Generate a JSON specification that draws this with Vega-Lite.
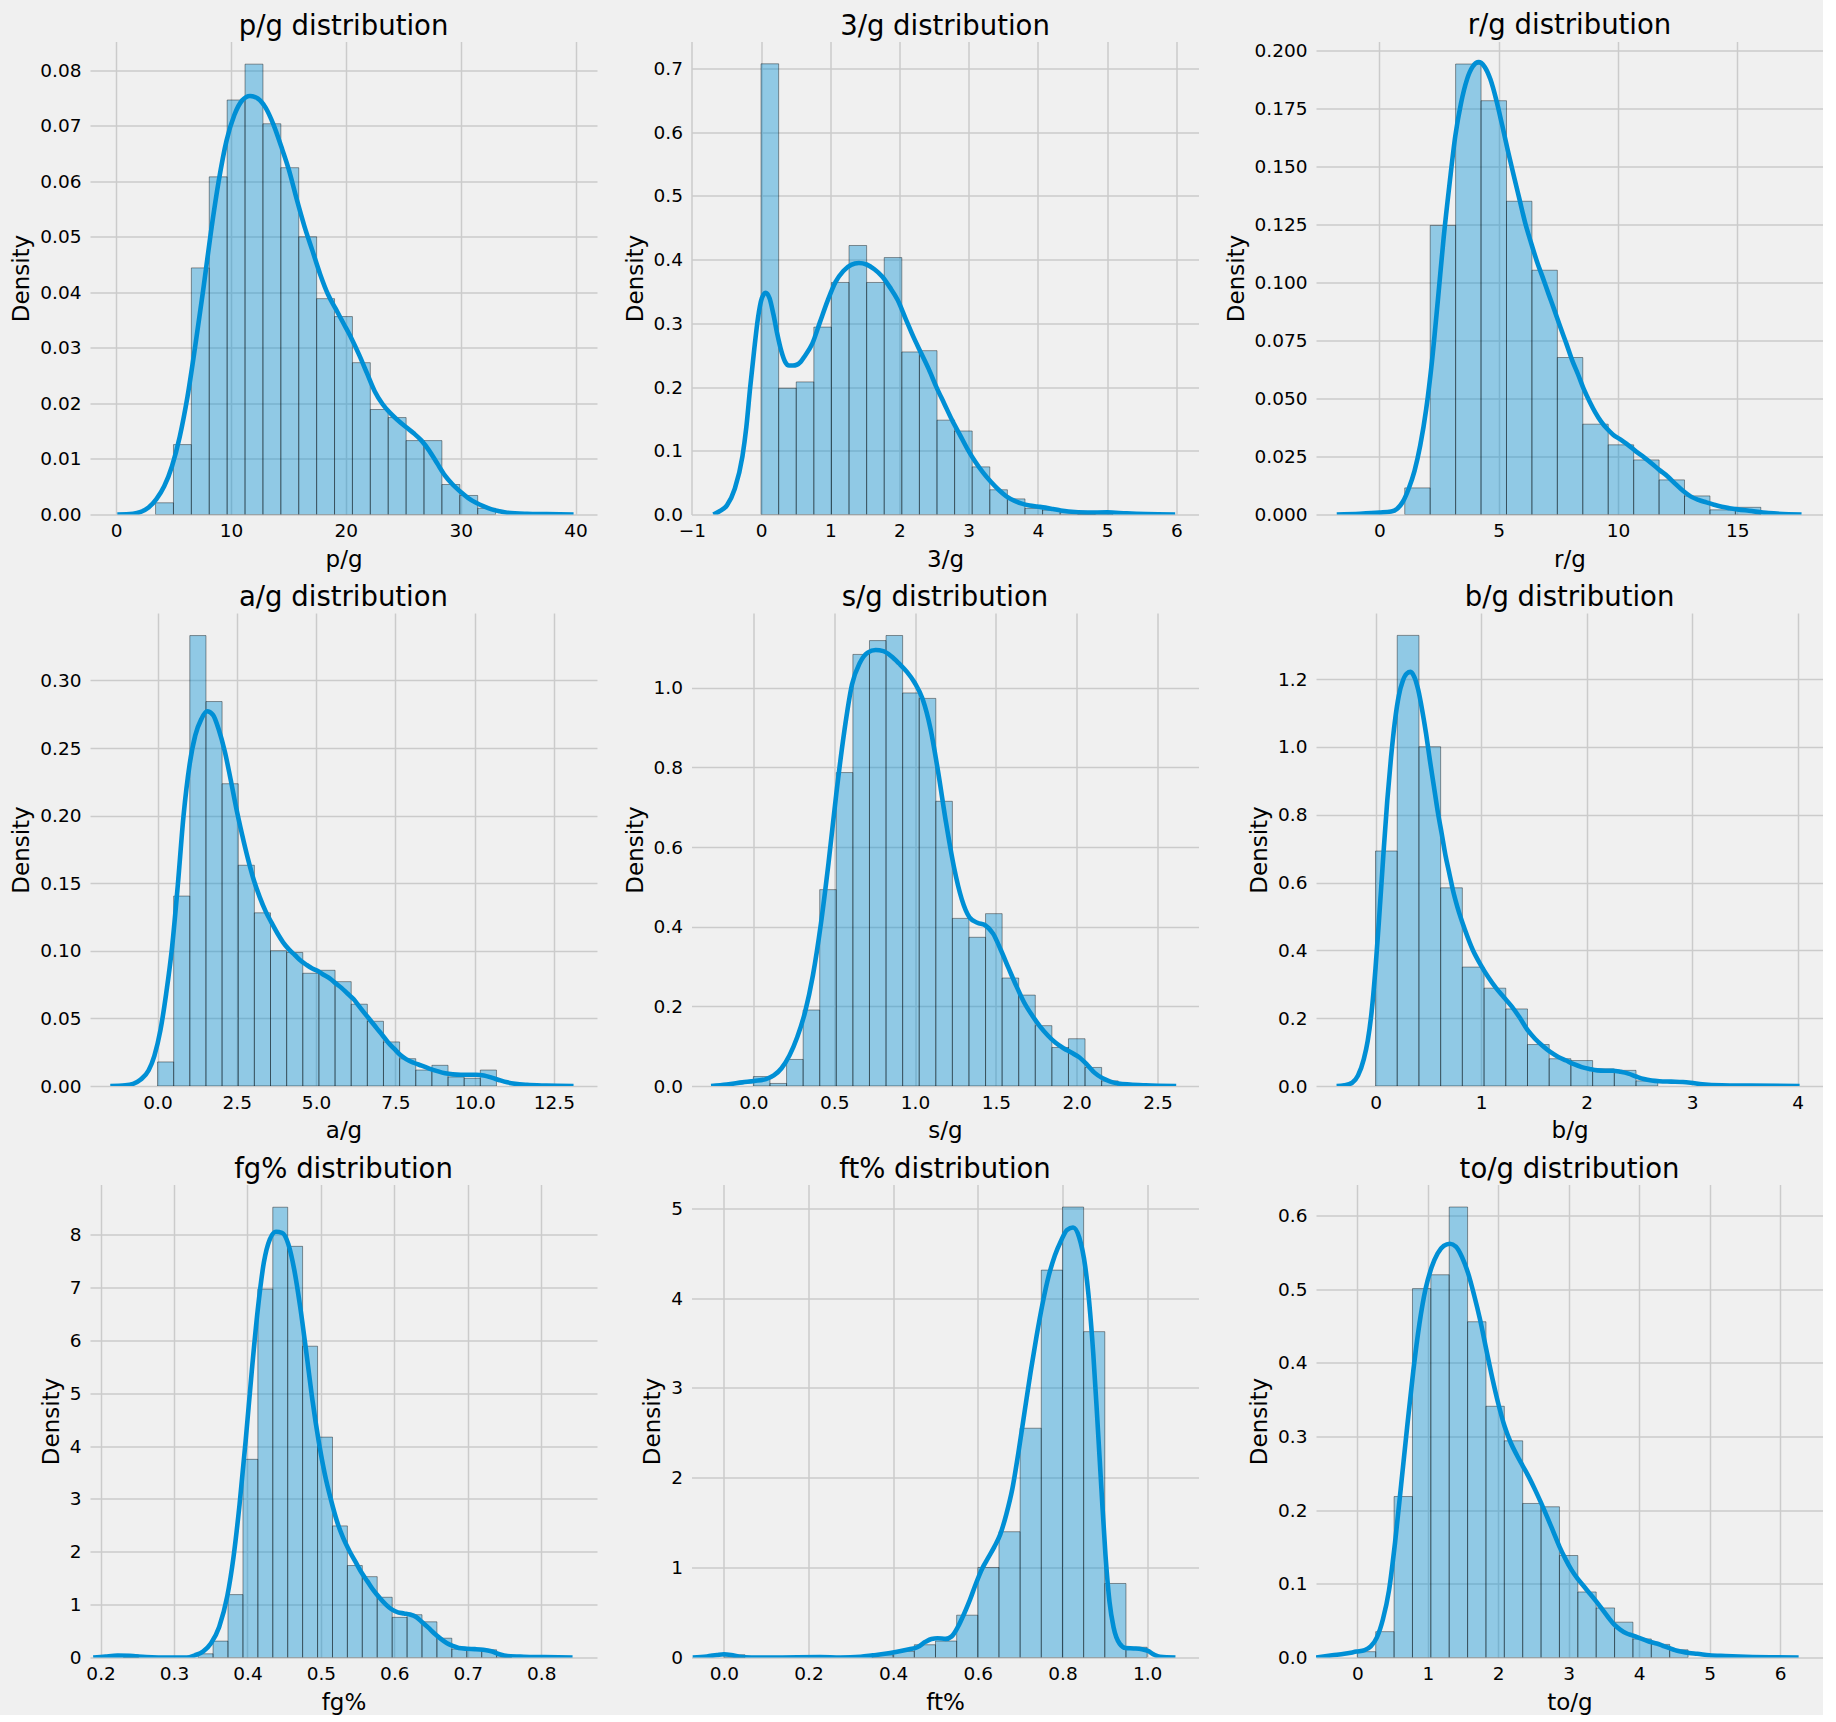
{
"$schema": "https://vega.github.io/schema/vega-lite/v6.json",
"background": "#f0f0f0",
"padding": {"left": 10, "top": 11.5, "right": 0, "bottom": 0},
"columns": 3,
"spacing": {"row": 12.5, "column": 26.5},
"datasets": {
"bars": [
{"v":"p/g","x0":3.43,"x1":4.988,"d":0.00211},{"v":"p/g","x0":4.988,"x1":6.547,"d":0.01259},{"v":"p/g","x0":6.547,"x1":8.105,"d":0.04442},{"v":"p/g","x0":8.105,"x1":9.664,"d":0.06082},{"v":"p/g","x0":9.664,"x1":11.222,"d":0.07466},{"v":"p/g","x0":11.222,"x1":12.78,"d":0.08112},{"v":"p/g","x0":12.78,"x1":14.339,"d":0.07038},{"v":"p/g","x0":14.339,"x1":15.897,"d":0.06247},{"v":"p/g","x0":15.897,"x1":17.456,"d":0.05002},{"v":"p/g","x0":17.456,"x1":19.014,"d":0.03888},{"v":"p/g","x0":19.014,"x1":20.572,"d":0.03565},{"v":"p/g","x0":20.572,"x1":22.131,"d":0.02735},{"v":"p/g","x0":22.131,"x1":23.689,"d":0.01891},{"v":"p/g","x0":23.689,"x1":25.248,"d":0.01746},{"v":"p/g","x0":25.248,"x1":26.806,"d":0.01331},{"v":"p/g","x0":26.806,"x1":28.364,"d":0.01331},{"v":"p/g","x0":28.364,"x1":29.923,"d":0.0054},{"v":"p/g","x0":29.923,"x1":31.481,"d":0.00343},{"v":"p/g","x0":31.481,"x1":33.04,"d":0.00112},
{"v":"3/g","x0":0,"x1":0.2542,"d":0.707},{"v":"3/g","x0":0.2542,"x1":0.5084,"d":0.198},{"v":"3/g","x0":0.5084,"x1":0.7626,"d":0.208},{"v":"3/g","x0":0.7626,"x1":1.0168,"d":0.294},{"v":"3/g","x0":1.0168,"x1":1.271,"d":0.364},{"v":"3/g","x0":1.271,"x1":1.5252,"d":0.422},{"v":"3/g","x0":1.5252,"x1":1.7794,"d":0.364},{"v":"3/g","x0":1.7794,"x1":2.0336,"d":0.403},{"v":"3/g","x0":2.0336,"x1":2.2878,"d":0.255},{"v":"3/g","x0":2.2878,"x1":2.542,"d":0.257},{"v":"3/g","x0":2.542,"x1":2.7962,"d":0.148},{"v":"3/g","x0":2.7962,"x1":3.0504,"d":0.131},{"v":"3/g","x0":3.0504,"x1":3.3046,"d":0.0747},{"v":"3/g","x0":3.3046,"x1":3.5588,"d":0.0388},{"v":"3/g","x0":3.5588,"x1":3.813,"d":0.0245},{"v":"3/g","x0":3.813,"x1":4.0672,"d":0.0097},{"v":"3/g","x0":4.0672,"x1":4.3214,"d":0.007},{"v":"3/g","x0":4.3214,"x1":4.5756,"d":0.003},{"v":"3/g","x0":4.5756,"x1":4.8298,"d":0},{"v":"3/g","x0":4.8298,"x1":5.084,"d":0.003},
{"v":"r/g","x0":1.06,"x1":2.126,"d":0.01145},{"v":"r/g","x0":2.126,"x1":3.192,"d":0.1245},{"v":"r/g","x0":3.192,"x1":4.258,"d":0.194},{"v":"r/g","x0":4.258,"x1":5.324,"d":0.1782},{"v":"r/g","x0":5.324,"x1":6.39,"d":0.1349},{"v":"r/g","x0":6.39,"x1":7.456,"d":0.1052},{"v":"r/g","x0":7.456,"x1":8.522,"d":0.0676},{"v":"r/g","x0":8.522,"x1":9.588,"d":0.0389},{"v":"r/g","x0":9.588,"x1":10.654,"d":0.03},{"v":"r/g","x0":10.654,"x1":11.72,"d":0.0235},{"v":"r/g","x0":11.72,"x1":12.786,"d":0.0149},{"v":"r/g","x0":12.786,"x1":13.852,"d":0.008},{"v":"r/g","x0":13.852,"x1":14.918,"d":0.002},{"v":"r/g","x0":14.918,"x1":15.984,"d":0.0031},
{"v":"a/g","x0":0,"x1":0.509,"d":0.0178},{"v":"a/g","x0":0.509,"x1":1.018,"d":0.1405},{"v":"a/g","x0":1.018,"x1":1.527,"d":0.3332},{"v":"a/g","x0":1.527,"x1":2.036,"d":0.2844},{"v":"a/g","x0":2.036,"x1":2.545,"d":0.2236},{"v":"a/g","x0":2.545,"x1":3.054,"d":0.1633},{"v":"a/g","x0":3.054,"x1":3.563,"d":0.1281},{"v":"a/g","x0":3.563,"x1":4.072,"d":0.1001},{"v":"a/g","x0":4.072,"x1":4.581,"d":0.0988},{"v":"a/g","x0":4.581,"x1":5.09,"d":0.0834},{"v":"a/g","x0":5.09,"x1":5.599,"d":0.0856},{"v":"a/g","x0":5.599,"x1":6.108,"d":0.0772},{"v":"a/g","x0":6.108,"x1":6.617,"d":0.0605},{"v":"a/g","x0":6.617,"x1":7.126,"d":0.0479},{"v":"a/g","x0":7.126,"x1":7.635,"d":0.0326},{"v":"a/g","x0":7.635,"x1":8.144,"d":0.0202},{"v":"a/g","x0":8.144,"x1":8.653,"d":0.0118},{"v":"a/g","x0":8.653,"x1":9.162,"d":0.0153},{"v":"a/g","x0":9.162,"x1":9.671,"d":0.0067},{"v":"a/g","x0":9.671,"x1":10.18,"d":0.0057},{"v":"a/g","x0":10.18,"x1":10.689,"d":0.0118},
{"v":"s/g","x0":0,"x1":0.1026,"d":0.0237},{"v":"s/g","x0":0.1026,"x1":0.2052,"d":0.0064},{"v":"s/g","x0":0.2052,"x1":0.3078,"d":0.0667},{"v":"s/g","x0":0.3078,"x1":0.4104,"d":0.1909},{"v":"s/g","x0":0.4104,"x1":0.513,"d":0.4932},{"v":"s/g","x0":0.513,"x1":0.6156,"d":0.7872},{"v":"s/g","x0":0.6156,"x1":0.7182,"d":1.084},{"v":"s/g","x0":0.7182,"x1":0.8208,"d":1.1187},{"v":"s/g","x0":0.8208,"x1":0.9234,"d":1.1315},{"v":"s/g","x0":0.9234,"x1":1.026,"d":0.9872},{"v":"s/g","x0":1.026,"x1":1.1286,"d":0.9735},{"v":"s/g","x0":1.1286,"x1":1.2312,"d":0.7151},{"v":"s/g","x0":1.2312,"x1":1.3338,"d":0.421},{"v":"s/g","x0":1.3338,"x1":1.4364,"d":0.3735},{"v":"s/g","x0":1.4364,"x1":1.539,"d":0.4329},{"v":"s/g","x0":1.539,"x1":1.6416,"d":0.2712},{"v":"s/g","x0":1.6416,"x1":1.7442,"d":0.2283},{"v":"s/g","x0":1.7442,"x1":1.8468,"d":0.1516},{"v":"s/g","x0":1.8468,"x1":1.9494,"d":0.0968},{"v":"s/g","x0":1.9494,"x1":2.052,"d":0.1187},{"v":"s/g","x0":2.052,"x1":2.1546,"d":0.0466},{"v":"s/g","x0":2.1546,"x1":2.2572,"d":0.0128},
{"v":"b/g","x0":0,"x1":0.2057,"d":0.693},{"v":"b/g","x0":0.2057,"x1":0.4114,"d":1.329},{"v":"b/g","x0":0.4114,"x1":0.6171,"d":1.0005},{"v":"b/g","x0":0.6171,"x1":0.8228,"d":0.5845},{"v":"b/g","x0":0.8228,"x1":1.0285,"d":0.3507},{"v":"b/g","x0":1.0285,"x1":1.2342,"d":0.2885},{"v":"b/g","x0":1.2342,"x1":1.4399,"d":0.2273},{"v":"b/g","x0":1.4399,"x1":1.6456,"d":0.1223},{"v":"b/g","x0":1.6456,"x1":1.8513,"d":0.0804},{"v":"b/g","x0":1.8513,"x1":2.057,"d":0.0751},{"v":"b/g","x0":2.057,"x1":2.2627,"d":0.0504},{"v":"b/g","x0":2.2627,"x1":2.4684,"d":0.0461},{"v":"b/g","x0":2.4684,"x1":2.6741,"d":0.015},
{"v":"fg%","x0":0.2313,"x1":0.2516,"d":0.05},{"v":"fg%","x0":0.3329,"x1":0.3532,"d":0.07},{"v":"fg%","x0":0.3532,"x1":0.3735,"d":0.31},{"v":"fg%","x0":0.3735,"x1":0.3939,"d":1.19},{"v":"fg%","x0":0.3939,"x1":0.4142,"d":3.75},{"v":"fg%","x0":0.4142,"x1":0.4345,"d":6.97},{"v":"fg%","x0":0.4345,"x1":0.4548,"d":8.52},{"v":"fg%","x0":0.4548,"x1":0.4751,"d":7.78},{"v":"fg%","x0":0.4751,"x1":0.4955,"d":5.89},{"v":"fg%","x0":0.4955,"x1":0.5158,"d":4.17},{"v":"fg%","x0":0.5158,"x1":0.5361,"d":2.49},{"v":"fg%","x0":0.5361,"x1":0.5564,"d":1.74},{"v":"fg%","x0":0.5564,"x1":0.5767,"d":1.53},{"v":"fg%","x0":0.5767,"x1":0.5971,"d":1.14},{"v":"fg%","x0":0.5971,"x1":0.6174,"d":0.76},{"v":"fg%","x0":0.6174,"x1":0.6377,"d":0.81},{"v":"fg%","x0":0.6377,"x1":0.658,"d":0.675},{"v":"fg%","x0":0.658,"x1":0.6783,"d":0.365},{"v":"fg%","x0":0.6783,"x1":0.6987,"d":0.16},{"v":"fg%","x0":0.6987,"x1":0.719,"d":0.15},{"v":"fg%","x0":0.719,"x1":0.7393,"d":0.145},{"v":"fg%","x0":0.7393,"x1":0.7596,"d":0.05},
{"v":"ft%","x0":0,"x1":0.05,"d":0.03},{"v":"ft%","x0":0.35,"x1":0.4,"d":0.03},{"v":"ft%","x0":0.4,"x1":0.45,"d":0.069},{"v":"ft%","x0":0.45,"x1":0.5,"d":0.142},{"v":"ft%","x0":0.5,"x1":0.55,"d":0.183},{"v":"ft%","x0":0.55,"x1":0.6,"d":0.471},{"v":"ft%","x0":0.6,"x1":0.65,"d":1.002},{"v":"ft%","x0":0.65,"x1":0.7,"d":1.4},{"v":"ft%","x0":0.7,"x1":0.75,"d":2.552},{"v":"ft%","x0":0.75,"x1":0.8,"d":4.312},{"v":"ft%","x0":0.8,"x1":0.85,"d":5.014},{"v":"ft%","x0":0.85,"x1":0.9,"d":3.627},{"v":"ft%","x0":0.9,"x1":0.95,"d":0.824},{"v":"ft%","x0":0.95,"x1":1.0,"d":0.114},
{"v":"to/g","x0":0,"x1":0.2608,"d":0.0079},{"v":"to/g","x0":0.2608,"x1":0.5216,"d":0.0351},{"v":"to/g","x0":0.5216,"x1":0.7824,"d":0.2186},{"v":"to/g","x0":0.7824,"x1":1.0432,"d":0.501},{"v":"to/g","x0":1.0432,"x1":1.304,"d":0.5198},{"v":"to/g","x0":1.304,"x1":1.5648,"d":0.6118},{"v":"to/g","x0":1.5648,"x1":1.8256,"d":0.456},{"v":"to/g","x0":1.8256,"x1":2.0864,"d":0.3412},{"v":"to/g","x0":2.0864,"x1":2.3472,"d":0.2943},{"v":"to/g","x0":2.3472,"x1":2.608,"d":0.2092},{"v":"to/g","x0":2.608,"x1":2.8688,"d":0.2047},{"v":"to/g","x0":2.8688,"x1":3.1296,"d":0.1385},{"v":"to/g","x0":3.1296,"x1":3.3904,"d":0.089},{"v":"to/g","x0":3.3904,"x1":3.6512,"d":0.0673},{"v":"to/g","x0":3.6512,"x1":3.912,"d":0.048},{"v":"to/g","x0":3.912,"x1":4.1728,"d":0.0252},{"v":"to/g","x0":4.1728,"x1":4.4336,"d":0.0178},{"v":"to/g","x0":4.4336,"x1":4.6944,"d":0.0104}
],
"kde": [
{"v":"p/g","x":0.1,"d":0},{"v":"p/g","x":1.46,"d":0.00013},{"v":"p/g","x":2.14,"d":0.00046},{"v":"p/g","x":2.82,"d":0.00125},{"v":"p/g","x":3.5,"d":0.00277},{"v":"p/g","x":4.18,"d":0.00507},{"v":"p/g","x":4.86,"d":0.0087},{"v":"p/g","x":5.53,"d":0.01397},{"v":"p/g","x":6.21,"d":0.02122},{"v":"p/g","x":6.89,"d":0.03044},{"v":"p/g","x":7.57,"d":0.04033},{"v":"p/g","x":8.25,"d":0.05087},{"v":"p/g","x":8.93,"d":0.0601},{"v":"p/g","x":9.61,"d":0.06735},{"v":"p/g","x":10.29,"d":0.07196},{"v":"p/g","x":10.97,"d":0.0746},{"v":"p/g","x":11.65,"d":0.07539},{"v":"p/g","x":12.33,"d":0.07493},{"v":"p/g","x":13.01,"d":0.07328},{"v":"p/g","x":13.68,"d":0.07031},{"v":"p/g","x":14.36,"d":0.06636},{"v":"p/g","x":15.04,"d":0.06208},{"v":"p/g","x":15.72,"d":0.0568},{"v":"p/g","x":16.4,"d":0.05186},{"v":"p/g","x":17.08,"d":0.04758},{"v":"p/g","x":17.76,"d":0.04329},{"v":"p/g","x":18.44,"d":0.03967},{"v":"p/g","x":19.12,"d":0.03703},{"v":"p/g","x":19.8,"d":0.0344},{"v":"p/g","x":20.48,"d":0.03176},{"v":"p/g","x":21.15,"d":0.0288},{"v":"p/g","x":21.83,"d":0.0255},{"v":"p/g","x":22.51,"d":0.02221},{"v":"p/g","x":23.19,"d":0.0199},{"v":"p/g","x":23.87,"d":0.01825},{"v":"p/g","x":24.55,"d":0.01694},{"v":"p/g","x":25.23,"d":0.01575},{"v":"p/g","x":25.91,"d":0.01463},{"v":"p/g","x":26.59,"d":0.01331},{"v":"p/g","x":27.27,"d":0.01147},{"v":"p/g","x":27.95,"d":0.00923},{"v":"p/g","x":28.62,"d":0.00705},{"v":"p/g","x":29.3,"d":0.0054},{"v":"p/g","x":29.98,"d":0.00409},{"v":"p/g","x":30.66,"d":0.00297},{"v":"p/g","x":31.34,"d":0.00211},{"v":"p/g","x":32.02,"d":0.00145},{"v":"p/g","x":32.7,"d":0.00092},{"v":"p/g","x":33.38,"d":0.00059},{"v":"p/g","x":34.06,"d":0.00033},{"v":"p/g","x":35.76,"d":0.00013},{"v":"p/g","x":37.45,"d":0.00007},{"v":"p/g","x":39.83,"d":0},
{"v":"3/g","x":-0.69,"d":0},{"v":"3/g","x":-0.606,"d":0.0046},{"v":"3/g","x":-0.493,"d":0.0143},{"v":"3/g","x":-0.381,"d":0.0399},{"v":"3/g","x":-0.269,"d":0.0912},{"v":"3/g","x":-0.213,"d":0.1368},{"v":"3/g","x":-0.157,"d":0.1995},{"v":"3/g","x":-0.101,"d":0.2565},{"v":"3/g","x":-0.045,"d":0.3079},{"v":"3/g","x":0.011,"d":0.3392},{"v":"3/g","x":0.067,"d":0.3478},{"v":"3/g","x":0.123,"d":0.3392},{"v":"3/g","x":0.179,"d":0.3136},{"v":"3/g","x":0.236,"d":0.2822},{"v":"3/g","x":0.292,"d":0.2566},{"v":"3/g","x":0.348,"d":0.2394},{"v":"3/g","x":0.404,"d":0.2337},{"v":"3/g","x":0.46,"d":0.2337},{"v":"3/g","x":0.516,"d":0.2349},{"v":"3/g","x":0.572,"d":0.2394},{"v":"3/g","x":0.628,"d":0.248},{"v":"3/g","x":0.74,"d":0.268},{"v":"3/g","x":0.852,"d":0.3022},{"v":"3/g","x":0.965,"d":0.3364},{"v":"3/g","x":1.077,"d":0.3649},{"v":"3/g","x":1.189,"d":0.382},{"v":"3/g","x":1.301,"d":0.3917},{"v":"3/g","x":1.413,"d":0.3945},{"v":"3/g","x":1.525,"d":0.3922},{"v":"3/g","x":1.637,"d":0.3848},{"v":"3/g","x":1.75,"d":0.3734},{"v":"3/g","x":1.862,"d":0.3563},{"v":"3/g","x":1.974,"d":0.3364},{"v":"3/g","x":2.086,"d":0.3078},{"v":"3/g","x":2.198,"d":0.2794},{"v":"3/g","x":2.31,"d":0.2537},{"v":"3/g","x":2.423,"d":0.228},{"v":"3/g","x":2.535,"d":0.1995},{"v":"3/g","x":2.647,"d":0.1739},{"v":"3/g","x":2.759,"d":0.1482},{"v":"3/g","x":2.871,"d":0.1254},{"v":"3/g","x":2.983,"d":0.1026},{"v":"3/g","x":3.095,"d":0.0826},{"v":"3/g","x":3.208,"d":0.0656},{"v":"3/g","x":3.32,"d":0.0513},{"v":"3/g","x":3.432,"d":0.0388},{"v":"3/g","x":3.544,"d":0.0285},{"v":"3/g","x":3.656,"d":0.0217},{"v":"3/g","x":3.768,"d":0.0171},{"v":"3/g","x":3.88,"d":0.0142},{"v":"3/g","x":3.993,"d":0.0125},{"v":"3/g","x":4.105,"d":0.0108},{"v":"3/g","x":4.217,"d":0.0086},{"v":"3/g","x":4.329,"d":0.0063},{"v":"3/g","x":4.441,"d":0.0046},{"v":"3/g","x":4.722,"d":0.0029},{"v":"3/g","x":5.002,"d":0.0034},{"v":"3/g","x":5.282,"d":0.0017},{"v":"3/g","x":5.563,"d":0.0006},{"v":"3/g","x":5.983,"d":0},
{"v":"r/g","x":-1.79,"d":0},{"v":"r/g","x":-0.82,"d":0.0003},{"v":"r/g","x":0,"d":0.0008},{"v":"r/g","x":0.49,"d":0.0013},{"v":"r/g","x":0.73,"d":0.0024},{"v":"r/g","x":0.98,"d":0.0055},{"v":"r/g","x":1.22,"d":0.011},{"v":"r/g","x":1.47,"d":0.0188},{"v":"r/g","x":1.71,"d":0.0298},{"v":"r/g","x":1.96,"d":0.0455},{"v":"r/g","x":2.2,"d":0.0659},{"v":"r/g","x":2.45,"d":0.0925},{"v":"r/g","x":2.69,"d":0.1192},{"v":"r/g","x":2.94,"d":0.1427},{"v":"r/g","x":3.18,"d":0.1631},{"v":"r/g","x":3.42,"d":0.1772},{"v":"r/g","x":3.67,"d":0.1874},{"v":"r/g","x":3.91,"d":0.1929},{"v":"r/g","x":4.16,"d":0.1948},{"v":"r/g","x":4.4,"d":0.1929},{"v":"r/g","x":4.65,"d":0.1874},{"v":"r/g","x":4.89,"d":0.1788},{"v":"r/g","x":5.14,"d":0.1678},{"v":"r/g","x":5.38,"d":0.1568},{"v":"r/g","x":5.63,"d":0.1459},{"v":"r/g","x":5.87,"d":0.1357},{"v":"r/g","x":6.11,"d":0.1255},{"v":"r/g","x":6.36,"d":0.1168},{"v":"r/g","x":6.6,"d":0.109},{"v":"r/g","x":6.85,"d":0.1019},{"v":"r/g","x":7.09,"d":0.0949},{"v":"r/g","x":7.34,"d":0.0878},{"v":"r/g","x":7.58,"d":0.0807},{"v":"r/g","x":7.83,"d":0.0737},{"v":"r/g","x":8.07,"d":0.0666},{"v":"r/g","x":8.32,"d":0.0604},{"v":"r/g","x":8.56,"d":0.0541},{"v":"r/g","x":8.81,"d":0.0486},{"v":"r/g","x":9.05,"d":0.0439},{"v":"r/g","x":9.29,"d":0.04},{"v":"r/g","x":9.54,"d":0.0369},{"v":"r/g","x":9.78,"d":0.0345},{"v":"r/g","x":10.11,"d":0.0322},{"v":"r/g","x":10.44,"d":0.0298},{"v":"r/g","x":10.76,"d":0.0271},{"v":"r/g","x":11.09,"d":0.0246},{"v":"r/g","x":11.41,"d":0.022},{"v":"r/g","x":11.74,"d":0.0191},{"v":"r/g","x":12.07,"d":0.0165},{"v":"r/g","x":12.39,"d":0.0133},{"v":"r/g","x":12.72,"d":0.0102},{"v":"r/g","x":13.04,"d":0.0078},{"v":"r/g","x":13.37,"d":0.0063},{"v":"r/g","x":13.7,"d":0.0052},{"v":"r/g","x":14.02,"d":0.0042},{"v":"r/g","x":14.35,"d":0.0033},{"v":"r/g","x":14.67,"d":0.0027},{"v":"r/g","x":15.0,"d":0.0022},{"v":"r/g","x":15.49,"d":0.0016},{"v":"r/g","x":16.31,"d":0.0006},{"v":"r/g","x":17.69,"d":0},
{"v":"a/g","x":-1.49,"d":0},{"v":"a/g","x":-1.02,"d":0.0005},{"v":"a/g","x":-0.77,"d":0.0016},{"v":"a/g","x":-0.53,"d":0.0048},{"v":"a/g","x":-0.28,"d":0.0116},{"v":"a/g","x":-0.1,"d":0.0223},{"v":"a/g","x":0.09,"d":0.0411},{"v":"a/g","x":0.27,"d":0.068},{"v":"a/g","x":0.46,"d":0.103},{"v":"a/g","x":0.64,"d":0.1488},{"v":"a/g","x":0.82,"d":0.1999},{"v":"a/g","x":1.01,"d":0.2376},{"v":"a/g","x":1.19,"d":0.2594},{"v":"a/g","x":1.38,"d":0.2714},{"v":"a/g","x":1.56,"d":0.2772},{"v":"a/g","x":1.75,"d":0.2745},{"v":"a/g","x":1.93,"d":0.2637},{"v":"a/g","x":2.12,"d":0.2476},{"v":"a/g","x":2.3,"d":0.2274},{"v":"a/g","x":2.48,"d":0.2059},{"v":"a/g","x":2.67,"d":0.1857},{"v":"a/g","x":2.85,"d":0.1682},{"v":"a/g","x":3.04,"d":0.152},{"v":"a/g","x":3.22,"d":0.1399},{"v":"a/g","x":3.41,"d":0.1292},{"v":"a/g","x":3.59,"d":0.1211},{"v":"a/g","x":3.78,"d":0.113},{"v":"a/g","x":3.96,"d":0.1063},{"v":"a/g","x":4.15,"d":0.1009},{"v":"a/g","x":4.33,"d":0.0969},{"v":"a/g","x":4.51,"d":0.0928},{"v":"a/g","x":4.7,"d":0.0896},{"v":"a/g","x":4.88,"d":0.0869},{"v":"a/g","x":5.07,"d":0.0848},{"v":"a/g","x":5.25,"d":0.0821},{"v":"a/g","x":5.44,"d":0.0794},{"v":"a/g","x":5.62,"d":0.0759},{"v":"a/g","x":5.81,"d":0.0724},{"v":"a/g","x":5.99,"d":0.0684},{"v":"a/g","x":6.18,"d":0.0643},{"v":"a/g","x":6.36,"d":0.0589},{"v":"a/g","x":6.54,"d":0.0535},{"v":"a/g","x":6.73,"d":0.0481},{"v":"a/g","x":6.91,"d":0.0428},{"v":"a/g","x":7.1,"d":0.0374},{"v":"a/g","x":7.28,"d":0.032},{"v":"a/g","x":7.47,"d":0.0274},{"v":"a/g","x":7.65,"d":0.0231},{"v":"a/g","x":7.84,"d":0.0199},{"v":"a/g","x":8.08,"d":0.0172},{"v":"a/g","x":8.33,"d":0.0151},{"v":"a/g","x":8.57,"d":0.0129},{"v":"a/g","x":8.82,"d":0.011},{"v":"a/g","x":9.07,"d":0.0094},{"v":"a/g","x":9.31,"d":0.0086},{"v":"a/g","x":9.56,"d":0.0083},{"v":"a/g","x":9.8,"d":0.0083},{"v":"a/g","x":10.05,"d":0.0083},{"v":"a/g","x":10.29,"d":0.0078},{"v":"a/g","x":10.54,"d":0.0062},{"v":"a/g","x":10.79,"d":0.0043},{"v":"a/g","x":11.03,"d":0.0027},{"v":"a/g","x":11.28,"d":0.0016},{"v":"a/g","x":11.65,"d":0.0008},{"v":"a/g","x":12.26,"d":0.0003},{"v":"a/g","x":13.12,"d":0},
{"v":"s/g","x":-0.262,"d":0},{"v":"s/g","x":-0.165,"d":0.0037},{"v":"s/g","x":-0.068,"d":0.0091},{"v":"s/g","x":0.005,"d":0.0128},{"v":"s/g","x":0.078,"d":0.0174},{"v":"s/g","x":0.126,"d":0.0265},{"v":"s/g","x":0.174,"d":0.0447},{"v":"s/g","x":0.223,"d":0.0767},{"v":"s/g","x":0.271,"d":0.1224},{"v":"s/g","x":0.32,"d":0.1863},{"v":"s/g","x":0.368,"d":0.2776},{"v":"s/g","x":0.417,"d":0.4055},{"v":"s/g","x":0.465,"d":0.5607},{"v":"s/g","x":0.513,"d":0.7342},{"v":"s/g","x":0.562,"d":0.8895},{"v":"s/g","x":0.61,"d":1.0082},{"v":"s/g","x":0.659,"d":1.063},{"v":"s/g","x":0.707,"d":1.0886},{"v":"s/g","x":0.756,"d":1.095},{"v":"s/g","x":0.804,"d":1.0922},{"v":"s/g","x":0.853,"d":1.0795},{"v":"s/g","x":0.901,"d":1.0612},{"v":"s/g","x":0.95,"d":1.0402},{"v":"s/g","x":0.998,"d":1.0128},{"v":"s/g","x":1.047,"d":0.9717},{"v":"s/g","x":1.095,"d":0.8986},{"v":"s/g","x":1.143,"d":0.789},{"v":"s/g","x":1.192,"d":0.6612},{"v":"s/g","x":1.24,"d":0.5516},{"v":"s/g","x":1.289,"d":0.4694},{"v":"s/g","x":1.337,"d":0.4237},{"v":"s/g","x":1.386,"d":0.41},{"v":"s/g","x":1.434,"d":0.4037},{"v":"s/g","x":1.483,"d":0.3827},{"v":"s/g","x":1.531,"d":0.3416},{"v":"s/g","x":1.579,"d":0.2959},{"v":"s/g","x":1.628,"d":0.2502},{"v":"s/g","x":1.676,"d":0.2091},{"v":"s/g","x":1.725,"d":0.1772},{"v":"s/g","x":1.773,"d":0.1498},{"v":"s/g","x":1.822,"d":0.1269},{"v":"s/g","x":1.87,"d":0.1087},{"v":"s/g","x":1.919,"d":0.095},{"v":"s/g","x":1.967,"d":0.084},{"v":"s/g","x":2.016,"d":0.0721},{"v":"s/g","x":2.064,"d":0.0539},{"v":"s/g","x":2.112,"d":0.0329},{"v":"s/g","x":2.161,"d":0.0192},{"v":"s/g","x":2.209,"d":0.011},{"v":"s/g","x":2.258,"d":0.0064},{"v":"s/g","x":2.33,"d":0.0037},{"v":"s/g","x":2.427,"d":0.0018},{"v":"s/g","x":2.616,"d":0},
{"v":"b/g","x":-0.369,"d":0},{"v":"b/g","x":-0.295,"d":0.0021},{"v":"b/g","x":-0.221,"d":0.0097},{"v":"b/g","x":-0.166,"d":0.0311},{"v":"b/g","x":-0.111,"d":0.0794},{"v":"b/g","x":-0.074,"d":0.133},{"v":"b/g","x":-0.037,"d":0.2188},{"v":"b/g","x":0.0,"d":0.3475},{"v":"b/g","x":0.037,"d":0.5084},{"v":"b/g","x":0.074,"d":0.6799},{"v":"b/g","x":0.111,"d":0.8408},{"v":"b/g","x":0.147,"d":0.9694},{"v":"b/g","x":0.184,"d":1.0767},{"v":"b/g","x":0.221,"d":1.1517},{"v":"b/g","x":0.258,"d":1.1946},{"v":"b/g","x":0.295,"d":1.2161},{"v":"b/g","x":0.332,"d":1.2214},{"v":"b/g","x":0.369,"d":1.2054},{"v":"b/g","x":0.405,"d":1.1678},{"v":"b/g","x":0.442,"d":1.1088},{"v":"b/g","x":0.479,"d":1.0391},{"v":"b/g","x":0.516,"d":0.9587},{"v":"b/g","x":0.553,"d":0.8836},{"v":"b/g","x":0.59,"d":0.8086},{"v":"b/g","x":0.627,"d":0.7442},{"v":"b/g","x":0.663,"d":0.6799},{"v":"b/g","x":0.7,"d":0.6263},{"v":"b/g","x":0.737,"d":0.5727},{"v":"b/g","x":0.774,"d":0.5298},{"v":"b/g","x":0.848,"d":0.4601},{"v":"b/g","x":0.922,"d":0.4011},{"v":"b/g","x":0.995,"d":0.3582},{"v":"b/g","x":1.069,"d":0.3206},{"v":"b/g","x":1.143,"d":0.2885},{"v":"b/g","x":1.216,"d":0.2617},{"v":"b/g","x":1.29,"d":0.2349},{"v":"b/g","x":1.364,"d":0.2027},{"v":"b/g","x":1.438,"d":0.1662},{"v":"b/g","x":1.511,"d":0.1394},{"v":"b/g","x":1.585,"d":0.118},{"v":"b/g","x":1.659,"d":0.0997},{"v":"b/g","x":1.732,"d":0.0858},{"v":"b/g","x":1.806,"d":0.0751},{"v":"b/g","x":1.88,"d":0.0643},{"v":"b/g","x":1.954,"d":0.0558},{"v":"b/g","x":2.027,"d":0.0504},{"v":"b/g","x":2.101,"d":0.0461},{"v":"b/g","x":2.175,"d":0.045},{"v":"b/g","x":2.248,"d":0.045},{"v":"b/g","x":2.322,"d":0.0418},{"v":"b/g","x":2.396,"d":0.0365},{"v":"b/g","x":2.47,"d":0.0279},{"v":"b/g","x":2.543,"d":0.0204},{"v":"b/g","x":2.617,"d":0.0161},{"v":"b/g","x":2.691,"d":0.014},{"v":"b/g","x":2.801,"d":0.0129},{"v":"b/g","x":2.912,"d":0.0118},{"v":"b/g","x":2.986,"d":0.0097},{"v":"b/g","x":3.096,"d":0.0054},{"v":"b/g","x":3.281,"d":0.0021},{"v":"b/g","x":3.539,"d":0.0011},{"v":"b/g","x":4.018,"d":0},
{"v":"fg%","x":0.19,"d":0},{"v":"fg%","x":0.2066,"d":0.02},{"v":"fg%","x":0.2232,"d":0.035},{"v":"fg%","x":0.2398,"d":0.03},{"v":"fg%","x":0.2619,"d":0.01},{"v":"fg%","x":0.2951,"d":0},{"v":"fg%","x":0.3173,"d":0},{"v":"fg%","x":0.3283,"d":0.041},{"v":"fg%","x":0.3394,"d":0.11},{"v":"fg%","x":0.3504,"d":0.269},{"v":"fg%","x":0.3615,"d":0.579},{"v":"fg%","x":0.3726,"d":1.165},{"v":"fg%","x":0.3809,"d":1.888},{"v":"fg%","x":0.3892,"d":2.888},{"v":"fg%","x":0.3975,"d":4.094},{"v":"fg%","x":0.4058,"d":5.403},{"v":"fg%","x":0.414,"d":6.574},{"v":"fg%","x":0.4223,"d":7.47},{"v":"fg%","x":0.4306,"d":7.918},{"v":"fg%","x":0.4389,"d":8.056},{"v":"fg%","x":0.4472,"d":8.036},{"v":"fg%","x":0.4555,"d":7.829},{"v":"fg%","x":0.4638,"d":7.333},{"v":"fg%","x":0.4721,"d":6.609},{"v":"fg%","x":0.4804,"d":5.748},{"v":"fg%","x":0.4887,"d":4.852},{"v":"fg%","x":0.497,"d":4.094},{"v":"fg%","x":0.5053,"d":3.473},{"v":"fg%","x":0.5136,"d":2.991},{"v":"fg%","x":0.5219,"d":2.577},{"v":"fg%","x":0.5302,"d":2.267},{"v":"fg%","x":0.5385,"d":2.026},{"v":"fg%","x":0.5468,"d":1.819},{"v":"fg%","x":0.5551,"d":1.612},{"v":"fg%","x":0.5634,"d":1.44},{"v":"fg%","x":0.5717,"d":1.268},{"v":"fg%","x":0.5799,"d":1.13},{"v":"fg%","x":0.5882,"d":1.006},{"v":"fg%","x":0.5965,"d":0.91},{"v":"fg%","x":0.6049,"d":0.855},{"v":"fg%","x":0.6132,"d":0.834},{"v":"fg%","x":0.6214,"d":0.813},{"v":"fg%","x":0.6297,"d":0.765},{"v":"fg%","x":0.638,"d":0.668},{"v":"fg%","x":0.6463,"d":0.565},{"v":"fg%","x":0.6546,"d":0.455},{"v":"fg%","x":0.6629,"d":0.358},{"v":"fg%","x":0.6712,"d":0.276},{"v":"fg%","x":0.6795,"d":0.22},{"v":"fg%","x":0.6878,"d":0.179},{"v":"fg%","x":0.6989,"d":0.165},{"v":"fg%","x":0.71,"d":0.158},{"v":"fg%","x":0.721,"d":0.145},{"v":"fg%","x":0.7321,"d":0.117},{"v":"fg%","x":0.7431,"d":0.062},{"v":"fg%","x":0.7542,"d":0.028},{"v":"fg%","x":0.7763,"d":0.014},{"v":"fg%","x":0.804,"d":0.007},{"v":"fg%","x":0.8427,"d":0},
{"v":"ft%","x":-0.0736,"d":0},{"v":"ft%","x":-0.0402,"d":0.012},{"v":"ft%","x":-0.0163,"d":0.028},{"v":"ft%","x":0.0,"d":0.037},{"v":"ft%","x":0.0172,"d":0.028},{"v":"ft%","x":0.0363,"d":0.008},{"v":"ft%","x":0.065,"d":0},{"v":"ft%","x":0.1319,"d":0},{"v":"ft%","x":0.2275,"d":0.004},{"v":"ft%","x":0.2753,"d":0},{"v":"ft%","x":0.3231,"d":0.008},{"v":"ft%","x":0.3518,"d":0.024},{"v":"ft%","x":0.3805,"d":0.041},{"v":"ft%","x":0.4092,"d":0.065},{"v":"ft%","x":0.4379,"d":0.093},{"v":"ft%","x":0.457,"d":0.114},{"v":"ft%","x":0.4761,"d":0.174},{"v":"ft%","x":0.4904,"d":0.207},{"v":"ft%","x":0.5048,"d":0.215},{"v":"ft%","x":0.5239,"d":0.207},{"v":"ft%","x":0.5382,"d":0.235},{"v":"ft%","x":0.5526,"d":0.337},{"v":"ft%","x":0.5669,"d":0.479},{"v":"ft%","x":0.5813,"d":0.641},{"v":"ft%","x":0.5956,"d":0.824},{"v":"ft%","x":0.6099,"d":0.986},{"v":"ft%","x":0.6243,"d":1.108},{"v":"ft%","x":0.6386,"d":1.229},{"v":"ft%","x":0.653,"d":1.371},{"v":"ft%","x":0.6673,"d":1.594},{"v":"ft%","x":0.6816,"d":1.878},{"v":"ft%","x":0.696,"d":2.284},{"v":"ft%","x":0.7103,"d":2.73},{"v":"ft%","x":0.7247,"d":3.176},{"v":"ft%","x":0.739,"d":3.582},{"v":"ft%","x":0.7533,"d":3.947},{"v":"ft%","x":0.7677,"d":4.252},{"v":"ft%","x":0.782,"d":4.475},{"v":"ft%","x":0.7964,"d":4.637},{"v":"ft%","x":0.8107,"d":4.759},{"v":"ft%","x":0.825,"d":4.787},{"v":"ft%","x":0.8394,"d":4.678},{"v":"ft%","x":0.8537,"d":4.353},{"v":"ft%","x":0.8633,"d":3.947},{"v":"ft%","x":0.8728,"d":3.379},{"v":"ft%","x":0.8824,"d":2.649},{"v":"ft%","x":0.892,"d":1.878},{"v":"ft%","x":0.9015,"d":1.148},{"v":"ft%","x":0.9111,"d":0.621},{"v":"ft%","x":0.9207,"d":0.337},{"v":"ft%","x":0.935,"d":0.154},{"v":"ft%","x":0.9493,"d":0.105},{"v":"ft%","x":0.9685,"d":0.101},{"v":"ft%","x":0.9876,"d":0.093},{"v":"ft%","x":1.0019,"d":0.073},{"v":"ft%","x":1.0163,"d":0.032},{"v":"ft%","x":1.0306,"d":0.008},{"v":"ft%","x":1.0669,"d":0},
{"v":"to/g","x":-0.587,"d":0},{"v":"to/g","x":-0.357,"d":0.003},{"v":"to/g","x":-0.184,"d":0.005},{"v":"to/g","x":-0.012,"d":0.008},{"v":"to/g","x":0.104,"d":0.01},{"v":"to/g","x":0.19,"d":0.015},{"v":"to/g","x":0.276,"d":0.027},{"v":"to/g","x":0.363,"d":0.052},{"v":"to/g","x":0.449,"d":0.091},{"v":"to/g","x":0.535,"d":0.156},{"v":"to/g","x":0.622,"d":0.235},{"v":"to/g","x":0.708,"d":0.314},{"v":"to/g","x":0.794,"d":0.389},{"v":"to/g","x":0.881,"d":0.453},{"v":"to/g","x":0.967,"d":0.5},{"v":"to/g","x":1.054,"d":0.53},{"v":"to/g","x":1.14,"d":0.549},{"v":"to/g","x":1.226,"d":0.559},{"v":"to/g","x":1.313,"d":0.562},{"v":"to/g","x":1.399,"d":0.558},{"v":"to/g","x":1.485,"d":0.544},{"v":"to/g","x":1.572,"d":0.522},{"v":"to/g","x":1.658,"d":0.492},{"v":"to/g","x":1.744,"d":0.458},{"v":"to/g","x":1.831,"d":0.418},{"v":"to/g","x":1.917,"d":0.379},{"v":"to/g","x":2.003,"d":0.344},{"v":"to/g","x":2.09,"d":0.314},{"v":"to/g","x":2.176,"d":0.292},{"v":"to/g","x":2.263,"d":0.275},{"v":"to/g","x":2.349,"d":0.26},{"v":"to/g","x":2.435,"d":0.245},{"v":"to/g","x":2.522,"d":0.228},{"v":"to/g","x":2.608,"d":0.21},{"v":"to/g","x":2.694,"d":0.191},{"v":"to/g","x":2.781,"d":0.171},{"v":"to/g","x":2.867,"d":0.151},{"v":"to/g","x":2.953,"d":0.134},{"v":"to/g","x":3.04,"d":0.119},{"v":"to/g","x":3.126,"d":0.107},{"v":"to/g","x":3.212,"d":0.097},{"v":"to/g","x":3.299,"d":0.087},{"v":"to/g","x":3.385,"d":0.077},{"v":"to/g","x":3.472,"d":0.066},{"v":"to/g","x":3.558,"d":0.055},{"v":"to/g","x":3.644,"d":0.045},{"v":"to/g","x":3.731,"d":0.038},{"v":"to/g","x":3.817,"d":0.033},{"v":"to/g","x":3.903,"d":0.03},{"v":"to/g","x":3.99,"d":0.027},{"v":"to/g","x":4.076,"d":0.024},{"v":"to/g","x":4.162,"d":0.021},{"v":"to/g","x":4.249,"d":0.019},{"v":"to/g","x":4.335,"d":0.016},{"v":"to/g","x":4.421,"d":0.013},{"v":"to/g","x":4.508,"d":0.01},{"v":"to/g","x":4.594,"d":0.008},{"v":"to/g","x":4.709,"d":0.006},{"v":"to/g","x":4.824,"d":0.005},{"v":"to/g","x":4.997,"d":0.003},{"v":"to/g","x":5.227,"d":0.002},{"v":"to/g","x":5.515,"d":0.001},{"v":"to/g","x":6.264,"d":0}
]
},
"concat": [
{"title": "p/g distribution", "width": 507, "height": 473, "layer": [
 {"data": {"name": "bars"}, "transform": [{"filter": "datum.v == 'p/g'"}], "mark": {"type": "bar", "fill": "#008fd5", "fillOpacity": 0.4, "stroke": "#000000", "strokeOpacity": 0.4, "strokeWidth": 1, "clip": true},
  "encoding": {"x": {"field": "x0", "type": "quantitative", "title": "p/g", "scale": {"domain": [-2.28, 41.87], "nice": false, "zero": false}, "axis": {"values": [0, 10, 20, 30, 40], "format": "d"}}, "x2": {"field": "x1"},
   "y": {"field": "d", "type": "quantitative", "title": "Density", "scale": {"domain": [0, 0.0852], "nice": false}, "axis": {"values": [0, 0.01, 0.02, 0.03, 0.04, 0.05, 0.06, 0.07, 0.08], "format": ".2f"}}, "y2": {"datum": 0}}},
 {"data": {"name": "kde"}, "transform": [{"filter": "datum.v == 'p/g'"}], "mark": {"type": "line", "color": "#008fd5", "strokeWidth": 4.6, "interpolate": "monotone", "clip": true},
  "encoding": {"x": {"field": "x", "type": "quantitative", "title": "p/g"}, "y": {"field": "d", "type": "quantitative", "title": "Density"}}}
]},
{"title": "3/g distribution", "width": 507, "height": 473, "layer": [
 {"data": {"name": "bars"}, "transform": [{"filter": "datum.v == '3/g'"}], "mark": {"type": "bar", "fill": "#008fd5", "fillOpacity": 0.4, "stroke": "#000000", "strokeOpacity": 0.4, "strokeWidth": 1, "clip": true},
  "encoding": {"x": {"field": "x0", "type": "quantitative", "title": "3/g", "scale": {"domain": [-1.005, 6.32], "nice": false, "zero": false}, "axis": {"values": [-1, 0, 1, 2, 3, 4, 5, 6], "format": "d"}}, "x2": {"field": "x1"},
   "y": {"field": "d", "type": "quantitative", "title": "Density", "scale": {"domain": [0, 0.742], "nice": false}, "axis": {"values": [0, 0.1, 0.2, 0.3, 0.4, 0.5, 0.6, 0.7], "format": ".1f"}}, "y2": {"datum": 0}}},
 {"data": {"name": "kde"}, "transform": [{"filter": "datum.v == '3/g'"}], "mark": {"type": "line", "color": "#008fd5", "strokeWidth": 4.6, "interpolate": "monotone", "clip": true},
  "encoding": {"x": {"field": "x", "type": "quantitative", "title": "3/g"}, "y": {"field": "d", "type": "quantitative", "title": "Density"}}}
]},
{"title": "r/g distribution", "width": 507, "height": 473, "layer": [
 {"data": {"name": "bars"}, "transform": [{"filter": "datum.v == 'r/g'"}], "mark": {"type": "bar", "fill": "#008fd5", "fillOpacity": 0.4, "stroke": "#000000", "strokeOpacity": 0.4, "strokeWidth": 1, "clip": true},
  "encoding": {"x": {"field": "x0", "type": "quantitative", "title": "r/g", "scale": {"domain": [-2.66, 18.59], "nice": false, "zero": false}, "axis": {"values": [0, 5, 10, 15], "format": "d"}}, "x2": {"field": "x1"},
   "y": {"field": "d", "type": "quantitative", "title": "Density", "scale": {"domain": [0, 0.2037], "nice": false}, "axis": {"values": [0, 0.025, 0.05, 0.075, 0.1, 0.125, 0.15, 0.175, 0.2], "format": ".3f"}}, "y2": {"datum": 0}}},
 {"data": {"name": "kde"}, "transform": [{"filter": "datum.v == 'r/g'"}], "mark": {"type": "line", "color": "#008fd5", "strokeWidth": 4.6, "interpolate": "monotone", "clip": true},
  "encoding": {"x": {"field": "x", "type": "quantitative", "title": "r/g"}, "y": {"field": "d", "type": "quantitative", "title": "Density"}}}
]},
{"title": "a/g distribution", "width": 507, "height": 473, "layer": [
 {"data": {"name": "bars"}, "transform": [{"filter": "datum.v == 'a/g'"}], "mark": {"type": "bar", "fill": "#008fd5", "fillOpacity": 0.4, "stroke": "#000000", "strokeOpacity": 0.4, "strokeWidth": 1, "clip": true},
  "encoding": {"x": {"field": "x0", "type": "quantitative", "title": "a/g", "scale": {"domain": [-2.13, 13.86], "nice": false, "zero": false}, "axis": {"values": [0, 2.5, 5, 7.5, 10, 12.5], "format": ".1f"}}, "x2": {"field": "x1"},
   "y": {"field": "d", "type": "quantitative", "title": "Density", "scale": {"domain": [0, 0.3499], "nice": false}, "axis": {"values": [0, 0.05, 0.1, 0.15, 0.2, 0.25, 0.3], "format": ".2f"}}, "y2": {"datum": 0}}},
 {"data": {"name": "kde"}, "transform": [{"filter": "datum.v == 'a/g'"}], "mark": {"type": "line", "color": "#008fd5", "strokeWidth": 4.6, "interpolate": "monotone", "clip": true},
  "encoding": {"x": {"field": "x", "type": "quantitative", "title": "a/g"}, "y": {"field": "d", "type": "quantitative", "title": "Density"}}}
]},
{"title": "s/g distribution", "width": 507, "height": 473, "layer": [
 {"data": {"name": "bars"}, "transform": [{"filter": "datum.v == 's/g'"}], "mark": {"type": "bar", "fill": "#008fd5", "fillOpacity": 0.4, "stroke": "#000000", "strokeOpacity": 0.4, "strokeWidth": 1, "clip": true},
  "encoding": {"x": {"field": "x0", "type": "quantitative", "title": "s/g", "scale": {"domain": [-0.383, 2.754], "nice": false, "zero": false}, "axis": {"values": [0, 0.5, 1, 1.5, 2, 2.5], "format": ".1f"}}, "x2": {"field": "x1"},
   "y": {"field": "d", "type": "quantitative", "title": "Density", "scale": {"domain": [0, 1.188], "nice": false}, "axis": {"values": [0, 0.2, 0.4, 0.6, 0.8, 1.0], "format": ".1f"}}, "y2": {"datum": 0}}},
 {"data": {"name": "kde"}, "transform": [{"filter": "datum.v == 's/g'"}], "mark": {"type": "line", "color": "#008fd5", "strokeWidth": 4.6, "interpolate": "monotone", "clip": true},
  "encoding": {"x": {"field": "x", "type": "quantitative", "title": "s/g"}, "y": {"field": "d", "type": "quantitative", "title": "Density"}}}
]},
{"title": "b/g distribution", "width": 507, "height": 473, "layer": [
 {"data": {"name": "bars"}, "transform": [{"filter": "datum.v == 'b/g'"}], "mark": {"type": "bar", "fill": "#008fd5", "fillOpacity": 0.4, "stroke": "#000000", "strokeOpacity": 0.4, "strokeWidth": 1, "clip": true},
  "encoding": {"x": {"field": "x0", "type": "quantitative", "title": "b/g", "scale": {"domain": [-0.564, 4.24], "nice": false, "zero": false}, "axis": {"values": [0, 1, 2, 3, 4], "format": "d"}}, "x2": {"field": "x1"},
   "y": {"field": "d", "type": "quantitative", "title": "Density", "scale": {"domain": [0, 1.395], "nice": false}, "axis": {"values": [0, 0.2, 0.4, 0.6, 0.8, 1.0, 1.2], "format": ".1f"}}, "y2": {"datum": 0}}},
 {"data": {"name": "kde"}, "transform": [{"filter": "datum.v == 'b/g'"}], "mark": {"type": "line", "color": "#008fd5", "strokeWidth": 4.6, "interpolate": "monotone", "clip": true},
  "encoding": {"x": {"field": "x", "type": "quantitative", "title": "b/g"}, "y": {"field": "d", "type": "quantitative", "title": "Density"}}}
]},
{"title": "fg% distribution", "width": 507, "height": 473, "layer": [
 {"data": {"name": "bars"}, "transform": [{"filter": "datum.v == 'fg%'"}], "mark": {"type": "bar", "fill": "#008fd5", "fillOpacity": 0.4, "stroke": "#000000", "strokeOpacity": 0.4, "strokeWidth": 1, "clip": true},
  "encoding": {"x": {"field": "x0", "type": "quantitative", "title": "fg%", "scale": {"domain": [0.1856, 0.876], "nice": false, "zero": false}, "axis": {"values": [0.2, 0.3, 0.4, 0.5, 0.6, 0.7, 0.8], "format": ".1f"}}, "x2": {"field": "x1"},
   "y": {"field": "d", "type": "quantitative", "title": "Density", "scale": {"domain": [0, 8.95], "nice": false}, "axis": {"values": [0, 1, 2, 3, 4, 5, 6, 7, 8], "format": "d"}}, "y2": {"datum": 0}}},
 {"data": {"name": "kde"}, "transform": [{"filter": "datum.v == 'fg%'"}], "mark": {"type": "line", "color": "#008fd5", "strokeWidth": 4.6, "interpolate": "monotone", "clip": true},
  "encoding": {"x": {"field": "x", "type": "quantitative", "title": "fg%"}, "y": {"field": "d", "type": "quantitative", "title": "Density"}}}
]},
{"title": "ft% distribution", "width": 507, "height": 473, "layer": [
 {"data": {"name": "bars"}, "transform": [{"filter": "datum.v == 'ft%'"}], "mark": {"type": "bar", "fill": "#008fd5", "fillOpacity": 0.4, "stroke": "#000000", "strokeOpacity": 0.4, "strokeWidth": 1, "clip": true},
  "encoding": {"x": {"field": "x0", "type": "quantitative", "title": "ft%", "scale": {"domain": [-0.0765, 1.1214], "nice": false, "zero": false}, "axis": {"values": [0, 0.2, 0.4, 0.6, 0.8, 1.0], "format": ".1f"}}, "x2": {"field": "x1"},
   "y": {"field": "d", "type": "quantitative", "title": "Density", "scale": {"domain": [0, 5.265], "nice": false}, "axis": {"values": [0, 1, 2, 3, 4, 5], "format": "d"}}, "y2": {"datum": 0}}},
 {"data": {"name": "kde"}, "transform": [{"filter": "datum.v == 'ft%'"}], "mark": {"type": "line", "color": "#008fd5", "strokeWidth": 4.6, "interpolate": "monotone", "clip": true},
  "encoding": {"x": {"field": "x", "type": "quantitative", "title": "ft%"}, "y": {"field": "d", "type": "quantitative", "title": "Density"}}}
]},
{"title": "to/g distribution", "width": 507, "height": 473, "layer": [
 {"data": {"name": "bars"}, "transform": [{"filter": "datum.v == 'to/g'"}], "mark": {"type": "bar", "fill": "#008fd5", "fillOpacity": 0.4, "stroke": "#000000", "strokeOpacity": 0.4, "strokeWidth": 1, "clip": true},
  "encoding": {"x": {"field": "x0", "type": "quantitative", "title": "to/g", "scale": {"domain": [-0.587, 6.61], "nice": false, "zero": false}, "axis": {"values": [0, 1, 2, 3, 4, 5, 6], "format": "d"}}, "x2": {"field": "x1"},
   "y": {"field": "d", "type": "quantitative", "title": "Density", "scale": {"domain": [0, 0.6424], "nice": false}, "axis": {"values": [0, 0.1, 0.2, 0.3, 0.4, 0.5, 0.6], "format": ".1f"}}, "y2": {"datum": 0}}},
 {"data": {"name": "kde"}, "transform": [{"filter": "datum.v == 'to/g'"}], "mark": {"type": "line", "color": "#008fd5", "strokeWidth": 4.6, "interpolate": "monotone", "clip": true},
  "encoding": {"x": {"field": "x", "type": "quantitative", "title": "to/g"}, "y": {"field": "d", "type": "quantitative", "title": "Density"}}}
]}
],
"config": {
 "view": {"stroke": null, "fill": "#f0f0f0"},
 "font": "DejaVu Sans",
 "axis": {"domain": false, "ticks": false, "tickSize": 0, "grid": true, "gridColor": "#cbcbcb", "gridWidth": 1.5, "labelFont": "DejaVu Sans", "labelFontSize": 18.5, "labelColor": "#000000", "titleFont": "DejaVu Sans", "titleFontSize": 23, "titleFontWeight": "normal", "titleColor": "#000000", "labelFlush": false, "labelOverlap": false},
 "axisX": {"labelPadding": 7, "titlePadding": 8},
 "axisY": {"labelPadding": 9, "titlePadding": 6},
 "title": {"font": "DejaVu Sans", "fontSize": 27.5, "fontWeight": "normal", "color": "#000000", "offset": 1.5, "baseline": "alphabetic", "anchor": "middle"}
}
}
